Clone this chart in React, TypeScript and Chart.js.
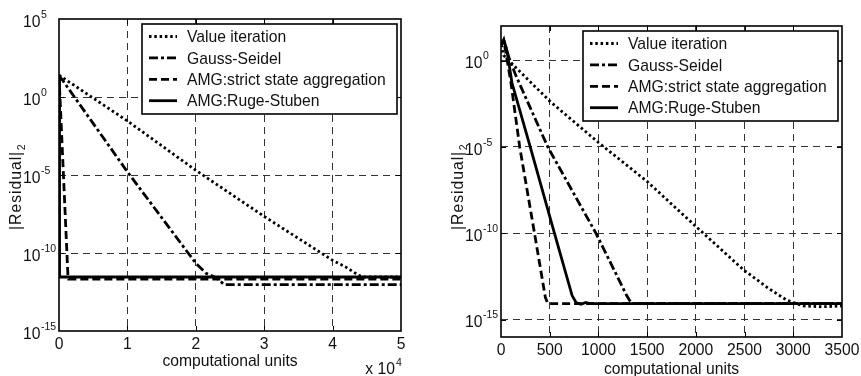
import React, { useEffect, useRef } from 'react';
import { Chart, registerables } from 'chart.js';

Chart.register(...registerables);

const FONT = '"Liberation Sans", Arial, Helvetica, sans-serif';

// ---------- shared labels ----------
const seriesLabels = [
  'Value iteration',
  'Gauss-Seidel',
  'AMG:strict state aggregation',
  'AMG:Ruge-Stuben',
];
const yTitle = '|Residual|';
const yTitleSub = '2';
const xTitle = 'computational units';

// ---------- left panel ----------
const leftXTicks = [0, 10000, 20000, 30000, 40000, 50000];
const leftXTickLabels = ['0', '1', '2', '3', '4', '5'];
const leftXMultiplierExp = '4';
const leftYTicks = [1e5, 1e0, 1e-5, 1e-10, 1e-15];
const leftYTickExponents = ['5', '0', '-5', '-10', '-15'];

const leftValueIterX = [0, 10000, 20000, 30000, 40000, 42000, 43800, 44500, 50000];
const leftValueIterY = [2.5e1, 2.9e-2, 2.0e-5, 2.2e-8, 3.4e-11, 1.2e-11, 3.7e-12, 2.9e-12, 2.9e-12];

const leftGaussX = [0, 10000, 20000, 21500, 22500, 23000, 24200, 50000];
const leftGaussY = [2.5e1, 1.6e-5, 2.2e-11, 5.0e-12, 3.2e-12, 2.5e-12, 9.3e-13, 9.3e-13];

const leftStrictX = [0, 1300, 1400, 50000];
const leftStrictY = [2.5e1, 4.0e-12, 2.1e-12, 2.1e-12];

const leftRugeX = [0, 80, 50000];
const leftRugeY = [2.5e1, 2.9e-12, 2.9e-12];

// ---------- right panel ----------
const rightXTicks = [0, 500, 1000, 1500, 2000, 2500, 3000, 3500];
const rightXTickLabels = ['0', '500', '1000', '1500', '2000', '2500', '3000', '3500'];
const rightYTicks = [1e0, 1e-5, 1e-10, 1e-15];
const rightYTickExponents = ['0', '-5', '-10', '-15'];

const rightValueIterX = [0, 27, 500, 1000, 1500, 2000, 2487, 2750, 2930, 3000, 3100, 3300, 3500];
const rightValueIterY = [8e0, 2.0e0, 4.5e-3, 1.8e-5, 1.0e-7, 2.5e-10, 7.9e-13, 6.3e-14, 1.4e-14, 1.0e-14, 6.3e-15, 5.6e-15, 6.3e-15];

const rightGaussX = [0, 30, 80, 147, 480, 975, 1290, 1340, 3500];
const rightGaussY = [6.3e0, 1.4e1, 1.6e0, 1.6e-1, 1.0e-5, 1.0e-10, 2.5e-14, 8.5e-15, 8.5e-15];

const rightStrictX = [0, 27, 100, 192, 344, 455, 480, 3500];
const rightStrictY = [7.9e0, 1.6e1, 6.3e-2, 1.0e-5, 1.0e-10, 2.0e-14, 8.5e-15, 8.5e-15];

const rightRugeX = [0, 30, 60, 113, 300, 549, 730, 770, 820, 870, 910, 3500];
const rightRugeY = [1.0e1, 1.5e1, 4.0e0, 5.0e-2, 1.0e-5, 1.0e-10, 2.5e-14, 1.0e-14, 7.9e-15, 1.0e-14, 8.5e-15, 8.5e-15];

// ---------- styles ----------
const seriesDash: number[][] = [[2.5, 2.8], [9, 3, 3, 3], [8, 4], []];
const LINE_W = 2.8;
const FS = 15.7;

type PanelCfg = {
  width: number;
  offsetLeft: number;
  padding: { left: number; right: number; top: number; bottom: number };
  xMin: number;
  xMax: number;
  yMin: number;
  yMax: number;
  xTicks: number[];
  xTickLabels: string[];
  yTicks: number[];
  yTickExps: string[];
  xMultExp?: string;
  xTitleBaseline: number;
  series: { x: number[]; y: number[] }[];
};

const leftCfg: PanelCfg = {
  width: 430,
  offsetLeft: 0,
  padding: { left: 59, right: 29, top: 19, bottom: 45 },
  xMin: 0,
  xMax: 50000,
  yMin: 1e-15,
  yMax: 1e5,
  xTicks: leftXTicks,
  xTickLabels: leftXTickLabels,
  yTicks: leftYTicks,
  yTickExps: leftYTickExponents,
  xMultExp: leftXMultiplierExp,
  xTitleBaseline: 34.5,
  series: [
    { x: leftValueIterX, y: leftValueIterY },
    { x: leftGaussX, y: leftGaussY },
    { x: leftStrictX, y: leftStrictY },
    { x: leftRugeX, y: leftRugeY },
  ],
};

const rightCfg: PanelCfg = {
  width: 431,
  offsetLeft: 430,
  padding: { left: 71, right: 19, top: 26, bottom: 39 },
  xMin: 0,
  xMax: 3500,
  yMin: 1e-16,
  yMax: 1e2,
  xTicks: rightXTicks,
  xTickLabels: rightXTickLabels,
  yTicks: rightYTicks,
  yTickExps: rightYTickExponents,
  xTitleBaseline: 36.5,
  series: [
    { x: rightValueIterX, y: rightValueIterY },
    { x: rightGaussX, y: rightGaussY },
    { x: rightStrictX, y: rightStrictY },
    { x: rightRugeX, y: rightRugeY },
  ],
};

function decorPlugin(p: PanelCfg) {
  return {
    id: 'decor',
    afterDraw(chart: any) {
      const ctx: CanvasRenderingContext2D = chart.ctx;
      const { left, right, top, bottom } = chart.chartArea;
      const xs = chart.scales.x;
      const ys = chart.scales.y;
      ctx.save();
      ctx.setLineDash([]);
      // frame
      ctx.strokeStyle = '#000';
      ctx.lineWidth = 1.6;
      ctx.strokeRect(left, top, right - left, bottom - top);
      // inward tick marks
      ctx.lineWidth = 1;
      ctx.beginPath();
      p.xTicks.forEach((v) => {
        const x = Math.round(xs.getPixelForValue(v)) + 0.5;
        if (x > left + 2 && x < right - 2) {
          ctx.moveTo(x, bottom);
          ctx.lineTo(x, bottom - 5);
          ctx.moveTo(x, top);
          ctx.lineTo(x, top + 5);
        }
      });
      p.yTicks.forEach((v) => {
        const y = Math.round(ys.getPixelForValue(v)) + 0.5;
        if (y > top + 2 && y < bottom - 2) {
          ctx.moveTo(left, y);
          ctx.lineTo(left + 5, y);
          ctx.moveTo(right, y);
          ctx.lineTo(right - 5, y);
        }
      });
      ctx.stroke();

      ctx.fillStyle = '#111';
      // x tick labels
      ctx.font = `${FS}px ${FONT}`;
      ctx.textAlign = 'center';
      ctx.textBaseline = 'alphabetic';
      p.xTicks.forEach((v, i) => {
        ctx.fillText(p.xTickLabels[i], xs.getPixelForValue(v), bottom + 18);
      });
      // y tick labels: 10^exp
      const baseRight = left - 18.5;
      p.yTicks.forEach((v, i) => {
        const y = ys.getPixelForValue(v);
        ctx.font = `${FS}px ${FONT}`;
        ctx.textAlign = 'right';
        ctx.fillText('10', baseRight, y + 7.6);
        ctx.font = `10.5px ${FONT}`;
        ctx.textAlign = 'left';
        ctx.fillText(p.yTickExps[i], baseRight + 0.5, y - 1.4);
      });
      // x title
      ctx.font = `${FS}px ${FONT}`;
      ctx.textAlign = 'center';
      ctx.fillText(xTitle, (left + right) / 2, bottom + p.xTitleBaseline);
      // multiplier
      if (p.xMultExp) {
        ctx.textAlign = 'right';
        ctx.fillText('x 10', right - 6, bottom + 43);
        ctx.font = `10.5px ${FONT}`;
        ctx.textAlign = 'left';
        ctx.fillText(p.xMultExp, right - 5, bottom + 34.5);
      }
      // y title (rotated)
      ctx.save();
      ctx.translate(left - 38, 230);
      ctx.rotate(-Math.PI / 2);
      ctx.font = `${FS}px ${FONT}`;
      (ctx as any).letterSpacing = '1px';
      ctx.textAlign = 'left';
      ctx.fillText(yTitle, 0, 0);
      const w = ctx.measureText(yTitle).width;
      (ctx as any).letterSpacing = '0px';
      ctx.font = `10.5px ${FONT}`;
      ctx.fillText(yTitleSub, w + 0.5, 3.5);
      ctx.restore();

      // legend box
      const bw = 255;
      const bh = 90;
      const bx = right - 4 - bw;
      const by = top + 5;
      ctx.fillStyle = '#fff';
      ctx.fillRect(bx, by, bw, bh);
      ctx.strokeStyle = '#000';
      ctx.lineWidth = 1.6;
      ctx.strokeRect(bx, by, bw, bh);
      chart.data.datasets.forEach((ds: any, i: number) => {
        const ry = by + 12.5 + i * 21.4;
        ctx.save();
        ctx.strokeStyle = '#000';
        ctx.lineWidth = LINE_W;
        ctx.lineCap = 'butt';
        ctx.setLineDash(ds.borderDash || []);
        ctx.beginPath();
        ctx.moveTo(bx + 7, ry);
        ctx.lineTo(bx + 35, ry);
        ctx.stroke();
        ctx.restore();
        ctx.fillStyle = '#111';
        ctx.font = `${FS}px ${FONT}`;
        ctx.textAlign = 'left';
        ctx.fillText(ds.label, bx + 45, ry + 5.6);
      });
      ctx.restore();
    },
  };
}

function Panel({ cfg }: { cfg: PanelCfg }) {
  const ref = useRef<HTMLCanvasElement>(null);
  useEffect(() => {
    if (!ref.current) return;
    const interiorX = cfg.xTicks.filter((v) => v > cfg.xMin && v < cfg.xMax);
    const interiorY = cfg.yTicks.filter((v) => v > cfg.yMin && v < cfg.yMax);
    const chart = new Chart(ref.current, {
      type: 'line',
      data: {
        datasets: cfg.series.map((s, i) => ({
          label: seriesLabels[i],
          data: s.x.map((x, j) => ({ x, y: s.y[j] })),
          borderColor: '#000',
          backgroundColor: '#000',
          borderWidth: LINE_W,
          borderDash: seriesDash[i],
          borderCapStyle: 'butt',
          pointRadius: 0,
          fill: false,
          tension: 0,
        })),
      },
      options: {
        responsive: false,
        animation: false,
        events: [],
        layout: { padding: cfg.padding },
        plugins: {
          legend: { display: false },
          tooltip: { enabled: false },
          title: { display: false },
        },
        scales: {
          x: {
            type: 'linear',
            min: cfg.xMin,
            max: cfg.xMax,
            ticks: { display: false },
            grid: { color: '#333', lineWidth: 1, drawTicks: false },
            border: { display: false, dash: [7, 5] },
            afterBuildTicks: (axis: any) => {
              axis.ticks = interiorX.map((v) => ({ value: v }));
            },
            afterFit: (axis: any) => {
              axis.height = 0;
            },
          },
          y: {
            type: 'logarithmic',
            min: cfg.yMin,
            max: cfg.yMax,
            ticks: { display: false },
            grid: { color: '#333', lineWidth: 1, drawTicks: false },
            border: { display: false, dash: [7, 5] },
            afterBuildTicks: (axis: any) => {
              axis.ticks = interiorY.map((v) => ({ value: v }));
            },
            afterFit: (axis: any) => {
              axis.width = 0;
            },
          },
        },
      } as any,
      plugins: [decorPlugin(cfg)],
    });
    return () => chart.destroy();
  }, [cfg]);
  return (
    <canvas
      ref={ref}
      width={cfg.width}
      height={376}
      style={{ position: 'absolute', left: cfg.offsetLeft, top: 0, width: cfg.width, height: 376 }}
    />
  );
}

export default function App() {
  return (
    <div style={{ position: 'absolute', left: 0, top: 0, width: 861, height: 376, background: '#fff', overflow: 'hidden' }}>
      <Panel cfg={leftCfg} />
      <Panel cfg={rightCfg} />
    </div>
  );
}
